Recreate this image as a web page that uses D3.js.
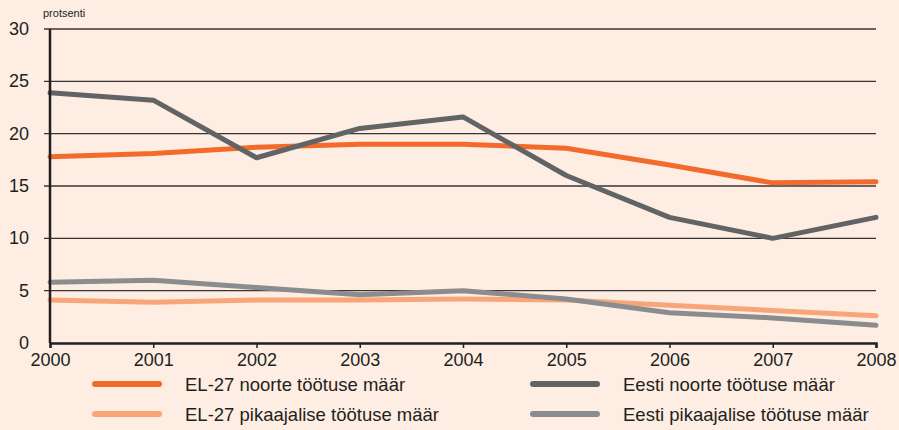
<!DOCTYPE html>
<html>
<head>
<meta charset="utf-8">
<script src="https://cdn.jsdelivr.net/npm/d3@7"></script>
<style>
  body { margin: 0; background: #fdede2; }
  svg { display: block; font-family: "Liberation Sans", Arial, sans-serif; }
</style>
</head>
<body>
<svg id="chart" width="899" height="430"></svg>
<script>
// data
var years = [2000, 2001, 2002, 2003, 2004, 2005, 2006, 2007, 2008];
var elYouth = [17.8, 18.1, 18.7, 19.0, 19.0, 18.6, 17.0, 15.3, 15.4];
var eeYouth = [23.9, 23.2, 17.7, 20.5, 21.6, 16.0, 12.0, 10.0, 12.0];
var elLong = [4.1, 3.9, 4.1, 4.1, 4.2, 4.1, 3.6, 3.1, 2.6];
var eeLong = [5.8, 6.0, 5.3, 4.6, 5.0, 4.2, 2.9, 2.4, 1.7];
var yTicks = [0, 5, 10, 15, 20, 25, 30];

var series = [
  {name: "EL-27 pikaajalise töötuse määr", values: elLong, color: "#f8a679"},
  {name: "Eesti pikaajalise töötuse määr", values: eeLong, color: "#8a8c8e"},
  {name: "EL-27 noorte töötuse määr", values: elYouth, color: "#f26a2c"},
  {name: "Eesti noorte töötuse määr", values: eeYouth, color: "#616365"}
];

var svg = d3.select("#chart");
var m = {left: 50, right: 876, top: 29, bottom: 343};

var x = d3.scaleLinear().domain([2000, 2008]).range([m.left, m.right]);
var y = d3.scaleLinear().domain([0, 30]).range([m.bottom, m.top]);

// gridlines
svg.append("g").selectAll("line")
  .data(yTicks.filter(function(d) { return d > 0; }))
  .enter().append("line")
  .attr("x1", m.left - 6).attr("x2", m.right)
  .attr("y1", function(d) { return y(d); })
  .attr("y2", function(d) { return y(d); })
  .attr("stroke", "#3a3534").attr("stroke-width", 1.3);

// y labels
svg.append("g").selectAll("text")
  .data(yTicks)
  .enter().append("text")
  .attr("x", 29)
  .attr("y", function(d) { return y(d) + 6; })
  .attr("text-anchor", "end")
  .attr("font-size", 18)
  .attr("fill", "#231f20")
  .text(function(d) { return d; });

svg.append("text")
  .attr("x", 43).attr("y", 17)
  .attr("font-size", 11)
  .attr("fill", "#231f20")
  .text("protsenti");

// lines
var line = d3.line()
  .x(function(d, i) { return x(years[i]); })
  .y(function(d) { return y(d); });

svg.append("g").selectAll("path")
  .data(series)
  .enter().append("path")
  .attr("d", function(s) { return line(s.values); })
  .attr("fill", "none")
  .attr("stroke", function(s) { return s.color; })
  .attr("stroke-width", 5)
  .attr("stroke-linecap", "round")
  .attr("stroke-linejoin", "round");

// axes
var xAxis = d3.axisBottom(x).tickValues(years).tickFormat(d3.format("d")).tickSize(5);
var gx = svg.append("g").attr("transform", "translate(0," + m.bottom + ")").call(xAxis);
gx.select(".domain").attr("stroke", "#231f20").attr("stroke-width", 2.5);
gx.selectAll(".tick line").attr("stroke", "#231f20").attr("stroke-width", 1.5);
gx.selectAll(".tick text").attr("font-size", 18).attr("fill", "#231f20")
  .attr("font-family", "Liberation Sans, Arial, sans-serif").attr("dy", "0.72em").attr("y", 10);

svg.append("line")
  .attr("x1", m.left).attr("x2", m.left)
  .attr("y1", m.top).attr("y2", m.bottom)
  .attr("stroke", "#231f20").attr("stroke-width", 2.5);

// legend
var legendItems = [
  {s: series[2], lx: 95, ly: 384},
  {s: series[0], lx: 95, ly: 414},
  {s: series[3], lx: 533, ly: 384},
  {s: series[1], lx: 533, ly: 414}
];
var lg = svg.append("g").selectAll("g").data(legendItems).enter().append("g");
lg.append("line")
  .attr("x1", function(d) { return d.lx; })
  .attr("x2", function(d) { return d.lx + 64; })
  .attr("y1", function(d) { return d.ly; })
  .attr("y2", function(d) { return d.ly; })
  .attr("stroke", function(d) { return d.s.color; })
  .attr("stroke-width", 6)
  .attr("stroke-linecap", "round");
lg.append("text")
  .attr("x", function(d) { return d.lx + 90; })
  .attr("y", function(d) { return d.ly + 7; })
  .attr("font-size", 18.5)
  .attr("fill", "#231f20")
  .text(function(d) { return d.s.name; });
</script>
</body>
</html>
